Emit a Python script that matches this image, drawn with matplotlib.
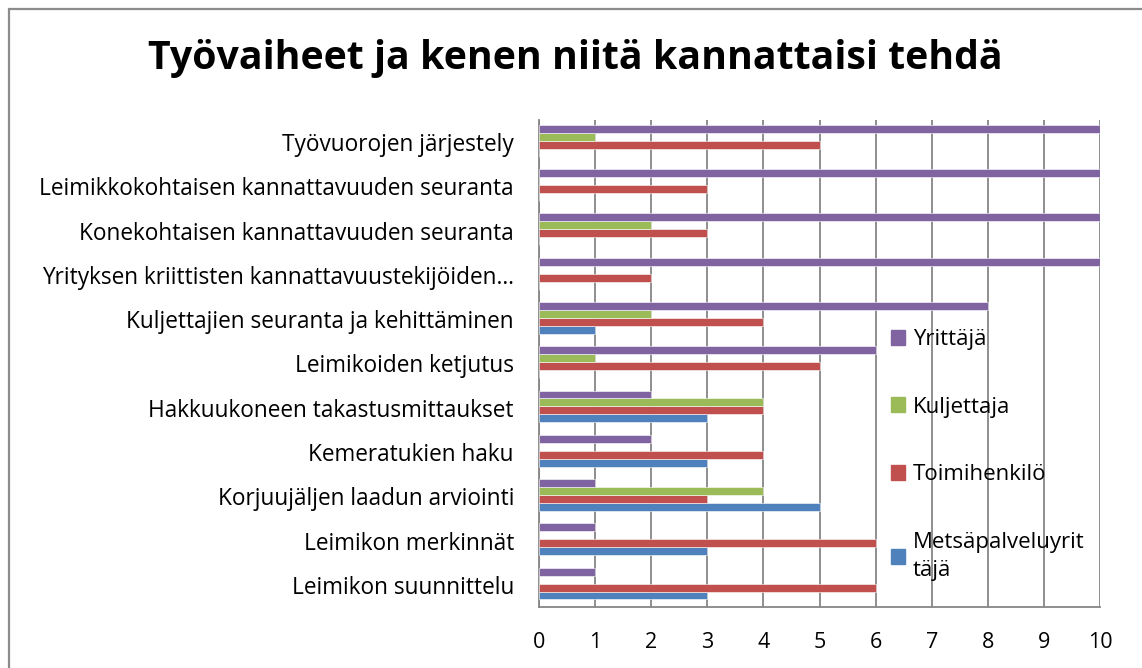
import numpy as np
import matplotlib
matplotlib.use("Agg")
import matplotlib.pyplot as plt
from matplotlib.patches import Rectangle, Patch

plt.rcParams['font.family'] = ['Open Sans', 'DejaVu Sans']

categories = [
    "Työvuorojen järjestely",
    "Leimikkokohtaisen kannattavuuden seuranta",
    "Konekohtaisen kannattavuuden seuranta",
    "Yrityksen kriittisten kannattavuustekijöiden…",
    "Kuljettajien seuranta ja kehittäminen",
    "Leimikoiden ketjutus",
    "Hakkuukoneen takastusmittaukset",
    "Kemeratukien haku",
    "Korjuujäljen laadun arviointi",
    "Leimikon merkinnät",
    "Leimikon suunnittelu",
]
series_names = ["Metsäpalveluyrittäjä", "Toimihenkilö", "Kuljettaja", "Yrittäjä"]
metsapalvelu = [0, 0, 0, 0, 1, 0, 3, 3, 5, 3, 3]
toimihenkilo = [5, 3, 3, 2, 4, 5, 4, 4, 3, 6, 6]
kuljettaja = [1, 0, 2, 0, 2, 1, 4, 0, 4, 0, 0]
yrittaja = [10, 10, 10, 10, 8, 6, 2, 2, 1, 1, 1]
colors = ["#4F81BD", "#C0504D", "#9BBB59", "#8064A2"]
x_ticks = list(range(0, 11))

fig = plt.figure(figsize=(11.42, 6.68), dpi=100)
# outer chart border (only top/left visible in reference)
fig.patches.append(Rectangle((8.5 / 1142, -0.1), 1.2, (659.5 / 668) + 0.1,
                             transform=fig.transFigure, fill=False,
                             edgecolor="#8c8c8c", linewidth=1.6))

ax = fig.add_axes([539 / 1142, 1 - 607 / 668, 561 / 1142, 487 / 668])

n = len(categories)
ypos = np.arange(n)[::-1]  # first category at top
h = 0.18
all_vals = [metsapalvelu, toimihenkilo, kuljettaja, yrittaja]
offsets = [-1.5 * h, -0.5 * h, 0.5 * h, 1.5 * h]
for vals, off, col in zip(all_vals, offsets, colors):
    ax.barh(ypos + off + 0.03, vals, height=h, color=col, edgecolor="white",
            linewidth=0.4, zorder=3)

ax.set_xlim(0, 10)
ax.set_ylim(-0.5, n - 0.5)
ax.set_xticks(x_ticks)
ax.set_xticklabels([str(t) for t in x_ticks])
ax.set_yticks(ypos)
ax.set_yticklabels(categories)
ax.tick_params(axis="x", length=0, pad=18, labelsize=15.5)
ax.tick_params(axis="y", length=0, pad=18, labelsize=16.3)
ax.grid(axis="x", color="#868686", linewidth=1.3, zorder=0)
for s in ["top", "right"]:
    ax.spines[s].set_visible(False)
for s in ["left", "bottom"]:
    ax.spines[s].set_color("#868686")
    ax.spines[s].set_linewidth(1.3)

fig.text(575 / 1142, 1 - 58 / 668, "Työvaiheet ja kenen niitä kannattaisi tehdä",
         ha="center", va="center", fontsize=28.3, fontweight="bold")

handles = [Patch(color=c) for c in colors[::-1]]
labels = ["Yrittäjä", "Kuljettaja", "Toimihenkilö", "Metsäpalveluyrit\ntäjä"]
leg = fig.legend(handles, labels, loc="upper left",
                 bbox_to_anchor=(882 / 1142, 1 - 320 / 668), frameon=False,
                 fontsize=16, labelspacing=2.1, handlelength=0.65,
                 handleheight=0.65, handletextpad=0.35, borderaxespad=0)
leg.get_texts()[3].set_linespacing(1.45)

fig.savefig("out.png", dpi=100)
